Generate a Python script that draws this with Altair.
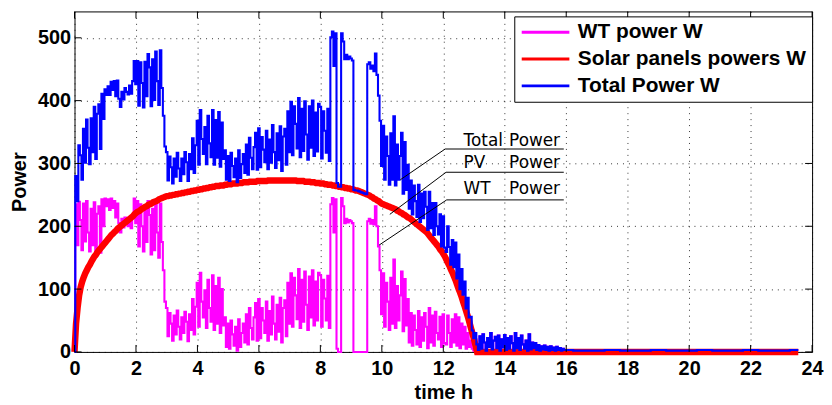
import pandas as pd
import altair as alt

# ---- sample times (h) ----
hours = [round(0.05 * i, 2) for i in range(320)]          # 0.00 .. 15.95
tail_hours = [16.5, 17.0, 17.5, 18.0, 18.5, 19.0, 19.5, 20.0, 20.5, 21.0,
              21.5, 22.0, 22.5, 23.0, 23.55]

# ---- WT power (W), 20 samples per hour ----
wt = (
    [0, 235, 170, 239, 210, 162, 236, 176, 240, 190, 160, 228, 170, 238, 152, 220, 232, 158, 243, 200]
    + [244, 232, 243, 226, 244, 229, 240, 214, 236, 205, 190, 212, 198, 214, 206, 200, 212, 197, 215, 244]
    + [205, 240, 168, 235, 200, 160, 231, 175, 240, 218, 155, 228, 162, 238, 190, 150, 236, 175, 130, 80]
    + [70, 25, 62, 45, 18, 58, 28, 66, 40, 20, 55, 30, 64, 48, 17, 60, 35, 84, 28, 72]
    + [110, 40, 126, 80, 55, 98, 38, 115, 70, 48, 122, 35, 105, 45, 118, 30, 100, 42, 55, 8]
    + [45, 5, 50, 28, 10, 40, 2, 52, 8, 30, 45, 15, 60, 12, 70, 38, 20, 55, 78, 18]
    + [84, 22, 70, 50, 30, 80, 18, 65, 28, 88, 45, 20, 75, 32, 86, 15, 70, 82, 25, 110]
    + [45, 125, 40, 118, 90, 52, 132, 38, 115, 48, 128, 75, 35, 120, 55, 130, 42, 112, 50, 126]
    + [122, 40, 115, 85, 50, 121, 38, 235, 245, 190, 243, 5, 0, 0, 245, 232, 205, 212, 206, 210]
    + [208, 205, 0, 0, 0, 0, 0, 0, 0, 0, 0, 208, 212, 204, 210, 203, 232, 200, 168, 130]
    + [60, 125, 40, 110, 80, 35, 118, 45, 147, 38, 105, 50, 90, 128, 33, 116, 42, 84, 15, 62]
    + [10, 58, 35, 12, 65, 8, 55, 18, 62, 40, 6, 70, 15, 58, 10, 64, 30, 20, 56, 8]
    + [60, 14, 12, 58, 30, 8, 52, 15, 60, 10, 55, 6, 45, 12, 40, 5, 30, 8, 18, 5]
    + [2, 20, 12, 3, 25, 5, 28, 15, 2, 22, 8, 30, 4, 18, 24, 6, 26, 2, 20, 7]
    + [27, 3, 22, 5, 25, 14, 2, 30, 6, 22, 3, 26, 12, 5, 18, 2, 28, 4, 15, 6]
    + [14, 3, 11, 2, 9, 4, 10, 3, 8, 2, 9, 3, 7, 2, 8, 3, 6, 2, 5, 3]
)
wt_tail = [2, 2, 3, 2, 2, 3, 2, 2, 3, 2, 2, 3, 2, 2, 3]

# ---- Solar panels power (W), 20 samples per hour ----
pv = (
    [0, 45, 70, 90, 103, 112, 119, 125, 130, 135, 139, 144, 148, 152, 155, 159, 162, 165, 168, 171]
    + [174, 177, 180, 183, 186, 188, 191, 193, 196, 198, 200, 202, 204, 206, 208, 210, 212, 214, 216, 219]
    + [221, 223, 224, 226, 228, 229, 231, 232, 234, 235, 236, 238, 239, 240, 241, 243, 244, 245, 246, 247]
    + [248, 248, 249, 249, 250, 250, 251, 251, 252, 252, 253, 253, 254, 254, 255, 255, 256, 256, 257, 257]
    + [258, 258, 259, 259, 260, 260, 261, 261, 262, 262, 263, 263, 264, 264, 264, 265, 265, 265, 266, 266]
    + [267, 267, 267, 268, 268, 268, 268, 269, 269, 269, 270, 270, 270, 270, 271, 271, 271, 271, 271, 272]
    + [272, 272, 272, 272, 272, 272, 273, 273, 273, 273, 273, 273, 273, 273, 273, 273, 273, 273, 273, 273]
    + [273, 273, 273, 273, 273, 272, 272, 272, 272, 272, 271, 271, 271, 271, 270, 270, 270, 269, 269, 269]
    + [268, 268, 268, 267, 267, 266, 266, 266, 265, 265, 264, 264, 263, 263, 262, 262, 261, 261, 260, 260]
    + [259, 259, 258, 257, 257, 256, 255, 254, 253, 252, 251, 250, 249, 247, 246, 244, 243, 241, 240, 238]
    + [236, 235, 234, 233, 232, 231, 230, 229, 228, 227, 225, 224, 222, 221, 219, 218, 216, 214, 213, 211]
    + [209, 207, 205, 203, 201, 199, 197, 195, 193, 191, 188, 185, 182, 179, 176, 173, 170, 167, 163, 160]
    + [156, 152, 147, 142, 137, 131, 126, 120, 114, 107, 100, 94, 87, 79, 72, 64, 56, 47, 38, 29]
    + [20, 10, 0, 0, 0, 0, 0, 0, 0, 0, 0, 0, 0, 0, 0, 0, 0, 0, 0, 0]
    + [0, 0, 0, 0, 0, 0, 0, 0, 0, 0, 0, 0, 0, 0, 0, 0, 0, 0, 0, 0]
    + [0, 0, 0, 0, 0, 0, 0, 0, 0, 0, 0, 0, 0, 0, 0, 0, 0, 0, 0, 0]
)
pv_tail = [0, 0, 0, 0, 0, 0, 0, 0, 0, 0, 0, 0, 0, 0, 0]

series_names = ["WT power W", "Solar panels powers W", "Total Power W"]
series_colors = ["#ff00ff", "#ff0000", "#0000ff"]

x_ticks = [0, 2, 4, 6, 8, 10, 12, 14, 16, 18, 20, 22, 24]
y_ticks = [0, 100, 200, 300, 400, 500]

# annotation (data coordinates)
lead_t = [10.60, 12.06, 10.26, 12.09, 9.91, 12.11]
lead_v = [274, 323, 219, 286, 170, 242]
lead_t2 = [12.06, 15.92, 12.09, 15.92, 12.11, 15.92]
lead_v2 = [323, 323, 286, 286, 242, 242]
ann_words = ["Total", "PV", "WT", "Power", "Power", "Power"]
ann_t = [12.66, 12.66, 12.66, 14.14, 14.14, 14.14]
ann_v = [327.5, 292.3, 251.7, 327.5, 292.3, 251.7]

# ---- build tables ----
assert len(wt) == len(hours) and len(pv) == len(hours)
t_all = hours + tail_hours
wt_all = wt + wt_tail
pv_all = pv + pv_tail
total_all = [a + b for a, b in zip(wt_all, pv_all)]

rows = []
for name, vals in zip(series_names, [wt_all, pv_all, total_all]):
    for t, v in zip(t_all, vals):
        rows.append({"t": t, "v": v, "s": name})
df = pd.DataFrame(rows)

W, H = 743, 343
FONT = "Liberation Sans"

xs = alt.Scale(domain=[0, 24], nice=False, zero=False)
ys = alt.Scale(domain=[0, 542], nice=False, zero=False)

xaxis = alt.Axis(values=x_ticks, title="time h", format="d", tickSize=0, labelPadding=7,
                 domain=False, grid=True, gridDash=[1, 5], gridColor="#000000", gridWidth=1,
                 gridOpacity=0.8, labelFont=FONT, labelFontSize=20, labelFontWeight="bold",
                 labelColor="#000000", titleFont=FONT, titleFontSize=20, titleFontWeight="bold",
                 titleColor="#000000", titlePadding=4, labelFlush=False, labelOverlap=False)
yaxis = alt.Axis(values=y_ticks, title="Power", format="d", tickSize=0, labelPadding=4,
                 domain=False, grid=True, gridDash=[1, 5], gridColor="#000000", gridWidth=1,
                 gridOpacity=0.8, labelFont=FONT, labelFontSize=20, labelFontWeight="bold",
                 labelColor="#000000", titleFont=FONT, titleFontSize=20, titleFontWeight="bold",
                 titleColor="#000000", titlePadding=8, labelOverlap=False)

X = alt.X("t:Q", scale=xs, axis=xaxis)
Y = alt.Y("v:Q", scale=ys, axis=yaxis)

color = alt.Color(
    "s:N",
    scale=alt.Scale(domain=series_names, range=series_colors),
    legend=alt.Legend(title=None, orient="none", legendX=443, legendY=5,
                      symbolType="stroke", symbolSize=2304, symbolStrokeWidth=3,
                      clipHeight=20, labelFont=FONT, labelFontSize=21,
                      labelFontWeight="bold", labelColor="#000000", labelOffset=7,
                      rowPadding=6, padding=6, strokeColor="#000000",
                      fillColor="#ffffff", cornerRadius=0, labelLimit=400),
    sort=series_names,
)

base = alt.Chart(df).encode(x=X, y=Y, color=color)
wt_line = base.transform_filter(alt.datum.s == series_names[0]).mark_line(
    strokeWidth=2.1, interpolate="step")
pv_line = base.transform_filter(alt.datum.s == series_names[1]).mark_line(
    strokeWidth=6.5, interpolate="linear")
tot_line = base.transform_filter(alt.datum.s == series_names[2]).mark_line(
    strokeWidth=2.1, interpolate="step")

lead_df = pd.DataFrame({"t": lead_t, "v": lead_v, "t2": lead_t2, "v2": lead_v2})
leads = alt.Chart(lead_df).mark_rule(color="#000000", strokeWidth=1).encode(
    x=X, y=Y, x2="t2:Q", y2="v2:Q")

ann_df = pd.DataFrame({"t": ann_t, "v": ann_v, "w": ann_words})
ann = alt.Chart(ann_df).mark_text(align="left", baseline="alphabetic", font="DejaVu Sans",
                                  fontSize=17, color="#000000").encode(x=X, y=Y, text="w:N")

xt_df = pd.DataFrame({"t": x_ticks})
yt_df = pd.DataFrame({"v": y_ticks})
tick_bottom = alt.Chart(xt_df).mark_rule(color="#000000").encode(
    x=X, y=alt.value(H), y2=alt.value(H - 7))
tick_top = alt.Chart(xt_df).mark_rule(color="#000000").encode(
    x=X, y=alt.value(0), y2=alt.value(7))
tick_left = alt.Chart(yt_df).mark_rule(color="#000000").encode(
    y=Y, x=alt.value(0), x2=alt.value(7))
tick_right = alt.Chart(yt_df).mark_rule(color="#000000").encode(
    y=Y, x=alt.value(W), x2=alt.value(W - 7))

chart = alt.layer(
    wt_line, pv_line, tot_line, leads, ann, tick_bottom, tick_top, tick_left, tick_right
).properties(
    width=W, height=H,
    autosize=alt.AutoSizeParams(type="none"),
    padding={"left": 67, "top": 2, "right": 12, "bottom": 50},
    background="#ffffff",
).configure_view(stroke="#000000", strokeWidth=1)

chart.save("out.html", embed_options={"renderer": "svg", "actions": False})
